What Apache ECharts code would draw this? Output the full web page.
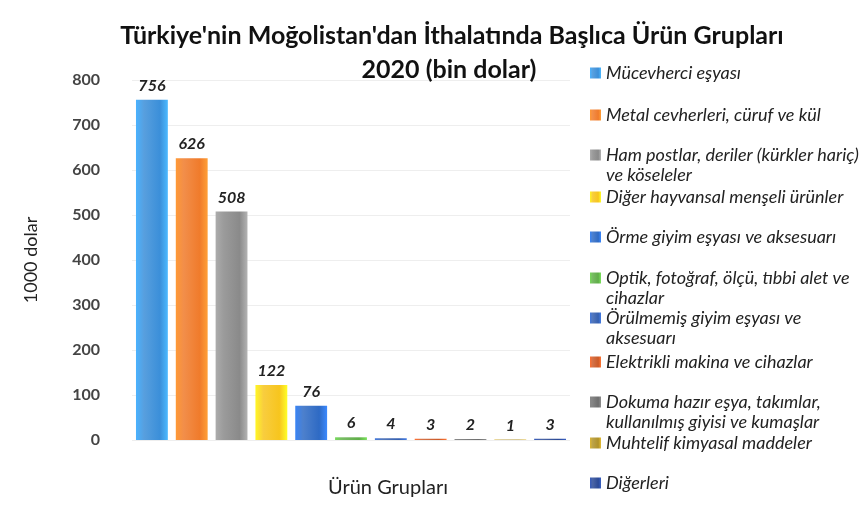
<!DOCTYPE html>
<html>
<head>
    <meta charset="utf-8">
    <title>Türkiye Moğolistan ithalat</title>
    <script src="https://cdn.jsdelivr.net/npm/echarts@6/dist/echarts.min.js"></script>
</head>
<body style="margin:0;background:#fff;">

<div id='graph_1' style='width:868px;height:510px;'></div>
<script type='text/javascript'>
    // ürün grupları (legend labels, \n = line break as in the picture)
    var categories = [
        'Mücevherci eşyası',
        'Metal cevherleri, cüruf ve kül',
        'Ham postlar, deriler (kürkler hariç)\nve köseleler',
        'Diğer hayvansal menşeli ürünler',
        'Örme giyim eşyası ve aksesuarı',
        'Optik, fotoğraf, ölçü, tıbbi alet ve\ncihazlar',
        'Örülmemiş giyim eşyası ve\naksesuarı',
        'Elektrikli makina ve cihazlar',
        'Dokuma hazır eşya, takımlar,\nkullanılmış giyisi ve kumaşlar',
        'Muhtelif kimyasal maddeler',
        'Diğerleri'
    ];
    // 1000 dolar
    var values = [756, 626, 508, 122, 76, 6, 4, 3, 2, 1, 3];
    var colors = ['#3b8fd9', '#f07b2b', '#8a8a8a', '#f7c51e', '#2e6ac4', '#5fae48',
                  '#3560b0', '#cc5a28', '#6e6e6e', '#b0922a', '#2c4a96'];
    var yTicks = [0, 100, 200, 300, 400, 500, 600, 700, 800];

    // layout: vertical centre (px) of each legend row's icon
    var legendRowY = [73, 115, 155, 197, 237, 278, 318, 362, 402, 443, 483];
    var legendLineH = 20;

    var font = 'Lato, "Open Sans", sans-serif';

    function barColor(c) {
        return new echarts.graphic.LinearGradient(0, 0, 1, 0, [
            {offset: 0, color: echarts.color.lift(c, -0.25)},
            {offset: 0.25, color: echarts.color.lift(c, 0.15)},
            {offset: 0.75, color: c},
            {offset: 1, color: echarts.color.lift(c, -0.3)}
        ]);
    }

    var series_data = categories.map(function (name, i) {
        return {
            name: name,
            type: 'bar',
            stack: 'all',
            barWidth: '80%',
            itemStyle: {color: barColor(colors[i])},
            label: {
                show: true, position: 'top', distance: 6,
                fontFamily: font, fontStyle: 'italic', fontWeight: 'bold',
                fontSize: 16, color: '#222'
            },
            data: values.map(function (v, j) { return j === i ? v : '-'; })
        };
    });

    // one legend per row so rows sit where they do in the picture;
    // two-line names get a blank line on top so the icon lines up with the first line
    var legends = categories.map(function (name, i) {
        var twoLine = name.indexOf('\n') >= 0;
        var nLines = twoLine ? 3 : 1;
        return {
            orient: 'vertical',
            left: 590,
            top: legendRowY[i] - nLines * legendLineH / 2,
            padding: 0,
            itemWidth: 11, itemHeight: 11,
            icon: 'rect',
            formatter: function (n) { return twoLine ? '\n' + n : n; },
            textStyle: {
                fontFamily: font, fontStyle: 'italic', fontSize: 18, color: '#222',
                lineHeight: legendLineH
            },
            data: [name]
        };
    });

    var myChart = echarts.init(document.getElementById('graph_1'));
    var option = {
        backgroundColor: '#ffffff',
        textStyle: {fontFamily: font},
        title: [
            {text: "Türkiye'nin Moğolistan'dan İthalatında Başlıca Ürün Grupları",
             left: 447, top: 18, textAlign: 'center',
             textStyle: {fontFamily: font, fontSize: 25, fontWeight: 'bold', color: '#111'}},
            {text: '2020 (bin dolar)',
             left: 444, top: 52, textAlign: 'center',
             textStyle: {fontFamily: font, fontSize: 25, fontWeight: 'bold', color: '#111'}}
        ],
        legend: legends,
        grid: {left: 132, right: 298, top: 80, bottom: 70},
        xAxis: {
            type: 'category', data: categories,
            axisLine: {show: false}, axisTick: {show: false}, axisLabel: {show: false},
            name: 'Ürün Grupları', nameLocation: 'middle', nameGap: 38,
            nameTextStyle: {fontFamily: font, fontSize: 20, color: '#222', padding: [0, 0, 0, 74]}
        },
        yAxis: {
            type: 'value', min: yTicks[0], max: yTicks[yTicks.length - 1], interval: 100,
            axisLine: {show: false}, axisTick: {show: false},
            axisLabel: {margin: 32, fontFamily: font, fontSize: 16, fontWeight: 'bold', color: '#444'},
            splitLine: {show: true, lineStyle: {color: '#eeeeee'}},
            name: '1000 dolar', nameLocation: 'middle', nameGap: 92,
            nameTextStyle: {fontFamily: font, fontSize: 18, color: '#222'}
        },
        series: series_data
    };

    myChart.setOption(option);
</script>
</body>
</html>
